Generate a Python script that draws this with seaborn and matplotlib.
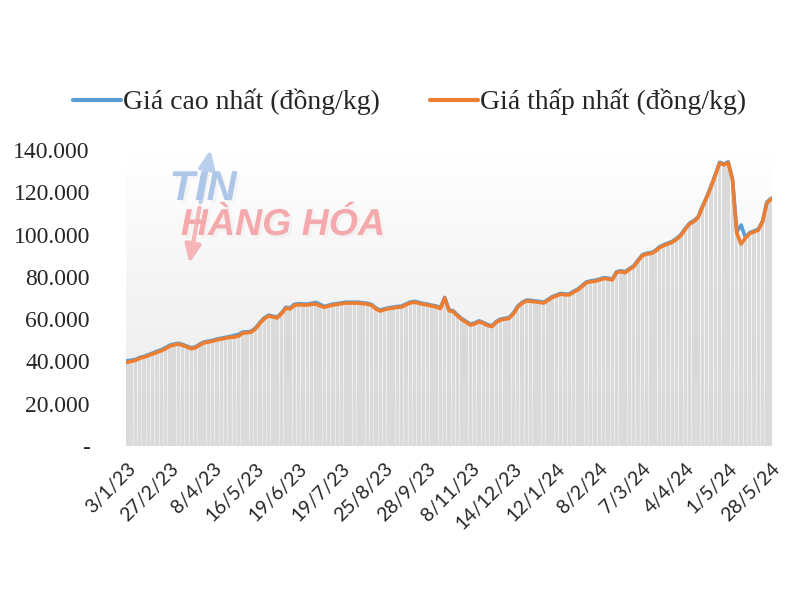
import numpy as np
import pandas as pd
import matplotlib
matplotlib.use("Agg")
import matplotlib.pyplot as plt
from matplotlib.colors import LinearSegmentedColormap
from matplotlib.ticker import FuncFormatter
from matplotlib.lines import Line2D
from matplotlib import patheffects as pe
import seaborn as sns

# ---- data (thousand dong/kg) ----
low_price = [39.5, 40.0, 40.5, 41.5, 42.0, 42.8, 43.5, 44.3, 45.0, 46.0,
             47.2, 47.8, 48.2, 47.6, 46.8, 46.0, 46.5, 47.8, 48.8, 49.2,
             49.6, 50.2, 50.6, 51.0, 51.4, 51.5, 52.0, 53.4, 53.6, 53.9,
             55.5, 58.1, 60.2, 61.5, 61.0, 60.6, 62.5, 65.2, 64.8, 66.5,
             66.8, 66.7, 66.7, 67.0, 67.1, 66.3, 65.6, 66.2, 66.7, 67.0,
             67.3, 67.6, 67.6, 67.6, 67.6, 67.3, 67.1, 66.5, 64.8, 63.8,
             64.5, 65.0, 65.3, 65.6, 65.8, 66.8, 67.7, 68.0, 67.5, 67.0,
             66.7, 66.2, 65.8, 65.0, 70.0, 64.0, 63.5, 61.5, 59.8, 58.5,
             57.2, 57.8, 58.8, 58.0, 57.0, 56.5, 58.5, 59.6, 60.0, 60.4,
             62.5, 65.7, 67.5, 68.6, 68.4, 68.2, 68.0, 67.6, 68.8, 70.2,
             71.0, 71.8, 71.5, 71.5, 72.8, 73.8, 75.5, 77.2, 77.7, 77.9,
             78.5, 79.2, 79.0, 78.5, 82.0, 82.5, 82.0, 83.5, 84.8, 87.5,
             90.0, 90.8, 91.0, 92.0, 93.8, 94.8, 95.6, 96.4, 97.8, 99.6,
             102.5, 105.0, 106.2, 108.0, 113.0, 117.5, 122.5, 128.0, 133.8, 133.0,
             134.0, 125.8, 100.7, 95.5, 98.3, 100.5, 101.3, 102.1, 106.0, 114.9,
             116.8]

high_price = [40.3, 40.6, 40.9, 41.9, 42.4, 43.2, 43.9, 44.8, 45.5, 46.5,
              47.7, 48.2, 48.6, 48.0, 47.2, 46.4, 46.9, 48.2, 49.2, 49.6,
              50.0, 50.6, 51.0, 51.4, 51.8, 52.3, 52.8, 53.9, 54.0, 54.3,
              55.9, 58.5, 60.6, 61.9, 61.4, 61.0, 62.9, 65.6, 65.3, 67.0,
              67.3, 67.2, 67.1, 67.5, 67.9, 67.0, 66.0, 66.6, 67.1, 67.4,
              67.7, 68.0, 68.0, 68.0, 68.0, 67.7, 67.5, 66.9, 65.2, 64.3,
              64.9, 65.4, 65.7, 66.0, 66.2, 67.2, 68.1, 68.4, 67.9, 67.4,
              67.1, 66.6, 66.2, 65.4, 70.3, 64.4, 63.9, 61.9, 60.2, 58.9,
              57.6, 58.2, 59.2, 58.4, 57.4, 56.9, 58.9, 60.0, 60.4, 60.8,
              62.9, 66.1, 67.9, 69.0, 68.9, 68.6, 68.4, 68.0, 69.2, 70.6,
              71.4, 72.2, 71.9, 71.9, 73.2, 74.2, 75.9, 77.6, 78.1, 78.4,
              78.9, 79.6, 79.4, 78.9, 82.4, 82.9, 82.4, 83.9, 85.2, 87.9,
              90.4, 91.2, 91.4, 92.4, 94.2, 95.2, 96.0, 96.8, 98.2, 100.0,
              102.9, 105.4, 106.6, 108.4, 113.4, 117.9, 122.9, 128.4, 134.2, 133.4,
              134.4, 126.3, 101.2, 104.5, 98.7, 100.9, 101.7, 102.5, 106.4, 115.3,
              117.2]

tick_labels = ["3/1/23", "27/2/23", "8/4/23", "16/5/23", "19/6/23", "19/7/23",
               "25/8/23", "28/9/23", "8/11/23", "14/12/23", "12/1/24", "8/2/24",
               "7/3/24", "4/4/24", "1/5/24", "28/5/24"]

series_high = "Giá cao nhất (đồng/kg)"
series_low = "Giá thấp nhất (đồng/kg)"

n = len(low_price)
df = pd.DataFrame({
    "idx": np.arange(n),
    series_high: np.array(high_price) * 1000,
    series_low: np.array(low_price) * 1000,
})
long = df.melt(id_vars="idx", var_name="series", value_name="price")

sns.set_theme(style="white")
plt.rcParams["font.family"] = ["Liberation Serif", "DejaVu Serif"]

fig = plt.figure(figsize=(8, 6), dpi=100)
ax = fig.add_axes([126 / 800, 1 - 446 / 600, 646 / 800, 296 / 600])

x0, x1 = -0.5, n - 0.5
ymax = 140000

# gradient plot-area background
cmap = LinearSegmentedColormap.from_list("bg", ["#ffffff", "#e9e9e9"])
ax.imshow(np.linspace(0, 1, 256).reshape(-1, 1), cmap=cmap, aspect="auto",
          extent=[x0, x1, 0, ymax], zorder=0)

# grey columns under the line
ax.bar(df["idx"], df[series_low], width=0.8, color="#dadada",
       linewidth=0, zorder=1)

sns.lineplot(data=long, x="idx", y="price", hue="series",
             palette={series_high: "#5b9bd5", series_low: "#ed7d31"},
             linewidth=2.6, ax=ax, legend=False, zorder=3)
for line in ax.lines:
    line.set_solid_capstyle("round")
    line.set_solid_joinstyle("round")

ax.set_xlim(x0 + 0.3, x1 - 0.3)
ax.set_ylim(0, ymax)
ax.set_xlabel("")
ax.set_ylabel("")
for s in ax.spines.values():
    s.set_visible(False)

ax.set_yticks(np.arange(0, ymax + 1, 20000))
ax.yaxis.set_major_formatter(FuncFormatter(
    lambda v, p: "-" if v == 0 else f"{int(v):,}".replace(",", ".")))
ax.tick_params(axis="y", length=0, pad=26, labelsize=17, labelcolor="#262626")

ax.set_xticks(np.arange(0, n, 10))
ax.set_xticklabels(tick_labels, rotation=45, ha="right",
                   rotation_mode="anchor", fontsize=14, color="#262626",
                   family=["Lato", "DejaVu Sans"])
ax.tick_params(axis="x", length=0, pad=10)

# legend
handles = [Line2D([], [], color="#5b9bd5", lw=3),
           Line2D([], [], color="#ed7d31", lw=3)]
fig.legend(handles, [series_high, series_low], loc="center",
           bbox_to_anchor=(410 / 800, 1 - 102 / 600), ncol=2, frameon=False,
           fontsize=20, handlelength=1.7, handletextpad=0.1,
           columnspacing=1.8, labelcolor="#262626")

# watermark
shadow = [pe.withSimplePatchShadow(offset=(2, -2), shadow_rgbFace="#cccccc", alpha=0.15)]
ax.annotate("", xy=(211, 600 - 147), xycoords="figure pixels",
            xytext=(200, 600 - 205), textcoords="figure pixels",
            arrowprops=dict(arrowstyle="-|>,head_length=0.9,head_width=0.4",
                            color="#b9cfeb", lw=3.0), zorder=4)
ax.annotate("", xy=(189, 600 - 266), xycoords="figure pixels",
            xytext=(200, 600 - 205), textcoords="figure pixels",
            arrowprops=dict(arrowstyle="-|>,head_length=0.9,head_width=0.4",
                            color="#f6b6b8", lw=3.0), zorder=4)
fig.text(203 / 800, 1 - 189 / 600, "TIN", color="#aec7e8", fontsize=30,
         fontweight="bold", fontstyle="italic", family=["Liberation Sans"],
         ha="center", va="center", zorder=5, path_effects=shadow)
fig.text(283 / 800, 1 - 225 / 600, "HÀNG HÓA", color="#f4aaac", fontsize=27,
         fontweight="bold", fontstyle="italic", family=["Liberation Sans"],
         ha="center", va="center", zorder=5, path_effects=shadow)

fig.savefig("out.png", dpi=100, facecolor="white")
